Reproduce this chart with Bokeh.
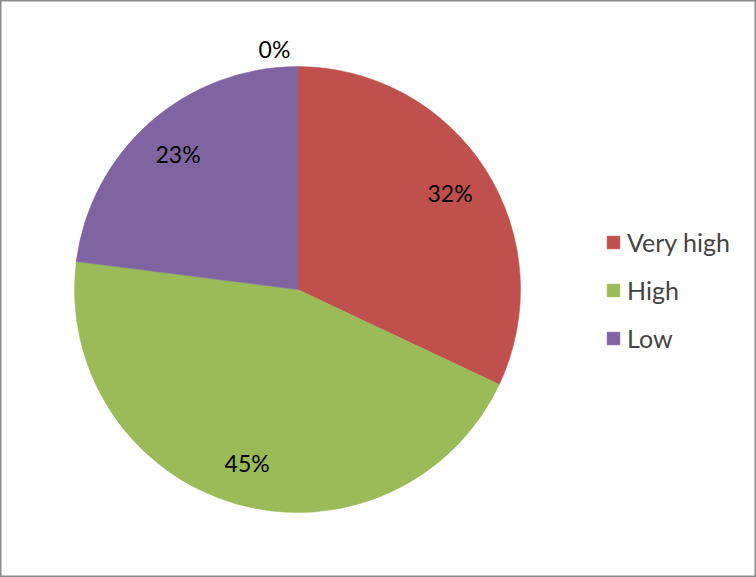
import math
from bokeh.plotting import figure
from bokeh.models import Range1d, Legend, LegendItem
from bokeh.core.properties import value
from bokeh.embed import file_html
from bokeh.resources import INLINE

categories = ["Very low", "Very high", "High", "Low"]
shares = [0, 32, 45, 23]
colors = ["#4F81BD", "#C0504D", "#9BBB59", "#8064A2"]
legend_names = ["Very high", "High", "Low"]

W, H = 756, 577
cx, cy, R = 297, H - 289, 223

p = figure(width=W, height=H, output_backend="svg", toolbar_location=None,
           x_range=Range1d(0, W), y_range=Range1d(0, H), min_border=0)
p.axis.visible = False
p.grid.visible = False
p.outline_line_color = "#8a8a8a"
p.outline_line_width = 2
p.background_fill_color = "white"

total = sum(shares)
starts, ends, mids = [], [], []
a = math.pi / 2
for s in shares:
    sweep = 2 * math.pi * s / total
    starts.append(a)
    ends.append(a - sweep)
    mids.append(a - sweep / 2)
    a -= sweep

renderers = {}
for cat, st, en, col, s in zip(categories, starts, ends, colors, shares):
    if s == 0:
        r = p.line(x=[cx, cx + R * math.cos(st)], y=[cy, cy + R * math.sin(st)],
                   line_color=col, line_width=1)
    else:
        r = p.wedge(x=cx, y=cy, radius=R, start_angle=en, end_angle=st,
                    fill_color=col, line_color=col, line_width=0.5)
    renderers[cat] = r

lx, ly, lt = [], [], []
for s, m in zip(shares, mids):
    if s == 0:
        continue
    lx.append(cx + 0.81 * R * math.cos(m))
    ly.append(cy + 0.81 * R * math.sin(m))
    lt.append(f"{s}%")
p.text(x=lx, y=ly, text=lt, text_font=value("Lato"), text_font_size="23px",
       text_align="center", text_baseline="middle", text_color="black")

# zero-share label outside the top
zx = [cx + (R + 18) * math.cos(st) for s, st in zip(shares, starts) if s == 0]
zy = [cy + (R + 18) * math.sin(st) for s, st in zip(shares, starts) if s == 0]
zt = [f"{s}%" for s in shares if s == 0]
p.text(x=zx, y=zy, text=zt, text_font=value("Lato"), text_font_size="23px",
       text_align="center", text_baseline="middle", text_color="black", x_offset=-23)

legend = Legend(items=[LegendItem(label=n, renderers=[renderers[n]]) for n in legend_names],
                location=(605, 224), glyph_width=16, glyph_height=16,
                label_text_font="Lato", label_text_font_size="25px",
                spacing=18, border_line_color=None, background_fill_alpha=0,
                label_standoff=6, padding=0, margin=0)
p.add_layout(legend)

open("out.html", "w").write(file_html(p, INLINE))
